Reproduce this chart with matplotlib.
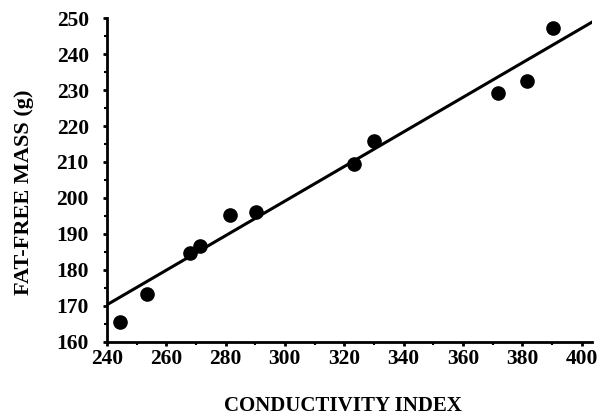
import matplotlib
matplotlib.use('Agg')
import matplotlib.pyplot as plt
import numpy as np
from matplotlib.ticker import MultipleLocator

# data
conductivity = [244.3, 253.4, 267.9, 271.4, 281.4, 290.2, 323.2, 330.2, 371.7, 381.7, 390.3]
fat_free_mass = [165.4, 173.3, 184.6, 186.7, 195.3, 196.2, 209.4, 215.9, 229.1, 232.6, 247.1]

# regression line end points
line_x = [240, 403.8]
line_y = [170.3, 249.0]

plt.rcParams['font.family'] = ['Liberation Serif', 'DejaVu Serif']
plt.rcParams['font.weight'] = 'bold'

fig = plt.figure(figsize=(5.97, 4.20), dpi=100)
ax = fig.add_axes([0.179, 0.186, 0.812, 0.771])

ax.plot(line_x, line_y, color='black', linewidth=2.2, solid_capstyle='butt')
ax.plot(conductivity, fat_free_mass, 'o', color='black', markersize=9.5)

ax.set_xlim(240, 403.4)
ax.set_ylim(160, 250)
ax.xaxis.set_major_locator(MultipleLocator(20))
ax.xaxis.set_minor_locator(MultipleLocator(10))
ax.yaxis.set_major_locator(MultipleLocator(10))
ax.yaxis.set_minor_locator(MultipleLocator(5))

for side in ['top', 'right']:
    ax.spines[side].set_visible(False)
for side in ['left', 'bottom']:
    ax.spines[side].set_linewidth(2)

ax.tick_params(axis='both', which='major', length=3, width=2, labelsize=15.5, pad=2)
ax.tick_params(axis='y', which='major', pad=10)
ax.tick_params(axis='both', which='minor', length=2, width=1.5)
for lbl in ax.get_xticklabels() + ax.get_yticklabels():
    lbl.set_fontweight('bold')

ax.set_xlabel('CONDUCTIVITY INDEX', fontsize=15, fontweight='bold')
ax.set_ylabel('FAT-FREE MASS (g)', fontsize=16, fontweight='bold')
ax.xaxis.set_label_coords(0.487, -0.167)
ax.yaxis.set_label_coords(-0.15, 0.463)

fig.savefig('out.png', dpi=100)
